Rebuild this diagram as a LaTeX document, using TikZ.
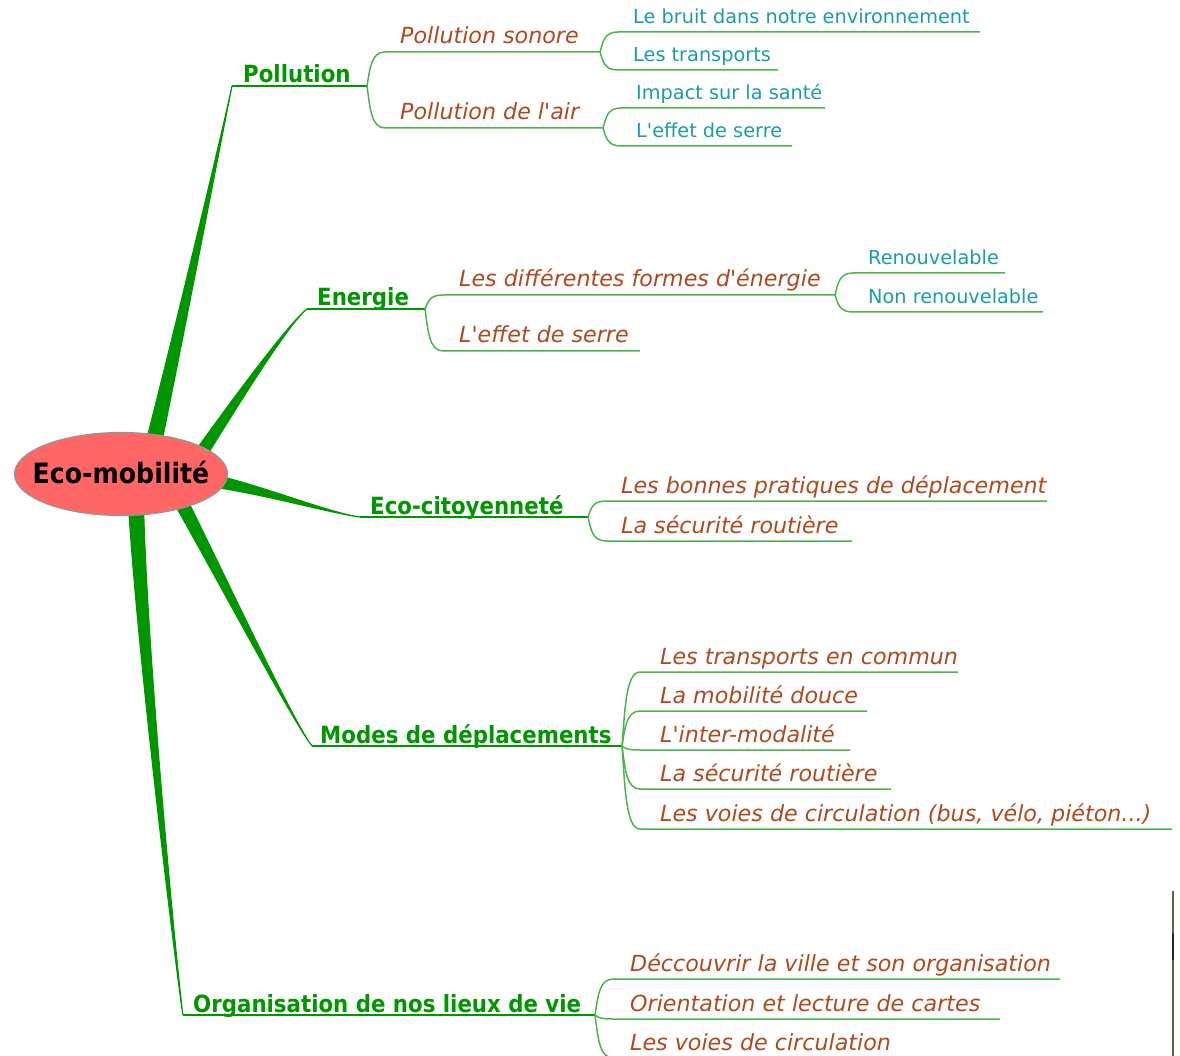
\documentclass[tikz,border=0pt]{standalone}
\usepackage{fontspec}
\usetikzlibrary{calc,backgrounds,shapes.geometric}
\setmainfont{DejaVu Sans}
\newfontfamily\condfont{DejaVu Sans Condensed}
\definecolor{lgreen}{RGB}{0,150,0}
\definecolor{tgreen}{RGB}{75,180,75}
\definecolor{brn}{RGB}{175,72,28}
\definecolor{tealtxt}{RGB}{25,158,160}
\definecolor{rootfill}{RGB}{255,102,102}
\definecolor{rootline}{RGB}{150,150,150}
\definecolor{edgeline}{RGB}{105,95,75}
\tikzset{
  rootnode/.style={ellipse, fill=rootfill, draw=rootline, line width=1.2pt,
    minimum width=213pt, minimum height=83pt, inner sep=0pt},
  roottext/.style={text=black, inner sep=0pt,
    font=\condfont\bfseries\fontsize{28}{32}\selectfont},
  lone/.style={text=lgreen, inner sep=0pt, font=\condfont\bfseries\fontsize{23.7}{28}\selectfont},
  ltwo/.style={text=brn, inner sep=0pt, font=\itshape\fontsize{22.2}{26}\selectfont},
  lthree/.style={text=tealtxt, inner sep=0pt, font=\fontsize{19.3}{23}\selectfont},
  uline/.style={draw=lgreen, line width=2pt},
  thinline/.style={draw=tgreen, line width=1.5pt},
  branch/.style={fill=lgreen, draw=lgreen, line width=1.2pt},
}
\newcommand\mainbranch[6]{%
  \coordinate (#1-s) at (#4,#3);
  \coordinate (#1-e) at (#5,#3);
  \node[lone, anchor=base west] (#1) at (#2,#3-3) {#6};
  \draw[uline] (#1-s) -- (#1-e);}
\newcommand\leaf[8]{%
  \coordinate (#1-s) at (#4+18,#5);
  \coordinate (#1-e) at (#6,#5);
  \node[#2, anchor=base west] (#1) at (#7,#5-8) {#8};
  \draw[thinline] (#3) .. controls ($(#3)!0.5!(#3 |- #1-s)+(3,0)$) and ($(#1-s)+(-14,0)$) .. (#1-s) -- (#1-e);}
\newcommand\thickbranch[5]{%
  \filldraw[branch] ($(#1)+(#5)$) .. controls ($(#2)+0.6*(#5)$) and (#3) .. (#4)
    .. controls (#3) and ($(#2)-0.6*(#5)$) .. ($(#1)-(#5)$) -- cycle;}
\begin{document}
\begin{tikzpicture}[x=1pt,y=-1pt]
\useasboundingbox (0,0) rectangle (1180,1056);
\clip (0,0) rectangle (1180,1056);

\node[rootnode] (root) at (121,474) {};
\node[roottext, anchor=base] (roottxt) at ($(root.center)+(0,9)$) {Eco-mobilité};

% level 1
\mainbranch{pol}{243}{86}{232}{367}{Pollution}
\mainbranch{ene}{317}{309}{307}{425}{Energie}
\mainbranch{eco}{370}{517}{360}{588}{Eco-citoyenneté}
\mainbranch{mod}{320}{746}{312}{622}{Modes de déplacements}
\mainbranch{org}{193}{1015}{183}{595}{Organisation de nos lieux de vie}

\coordinate (b-pol) at ($(root.center)+(32,-28)$);
\coordinate (b-ene) at ($(root.center)+(79,-19)$);
\coordinate (b-eco) at ($(root.center)+(94,7)$);
\coordinate (b-mod) at ($(root.center)+(59,26)$);
\coordinate (b-org) at ($(root.center)+(15,31)$);

\begin{scope}[on background layer]
  \thickbranch{b-pol}{182,320}{224,125}{pol-s}{8,0}
  \thickbranch{b-ene}{240,395}{290,322}{ene-s}{5,3.5}
  \thickbranch{b-eco}{270,492}{330,513}{eco-s}{1.5,6.5}
  \thickbranch{b-mod}{225,585}{295,725}{mod-s}{6,-3}
  \thickbranch{b-org}{143,670}{180,1000}{org-s}{7.5,0}
\end{scope}

% Pollution
\leaf{ps}{ltwo}{pol-e}{367}{52}{600}{400}{Pollution sonore}
\leaf{pa}{ltwo}{pol-e}{367}{128}{603}{400}{Pollution de l\textquotesingle air}
\leaf{b1}{lthree}{ps-e}{600}{32}{980}{633}{Le bruit dans notre environnement}
\leaf{b2}{lthree}{ps-e}{600}{70}{778}{633}{Les transports}
\leaf{a1}{lthree}{pa-e}{603}{108}{825}{636}{Impact sur la santé}
\leaf{a2}{lthree}{pa-e}{603}{146}{792}{636}{L\textquotesingle effet de serre}
% Energie
\leaf{ef}{ltwo}{ene-e}{425}{295}{835}{459}{Les différentes formes d\textquotesingle énergie}
\leaf{es}{ltwo}{ene-e}{425}{351}{640}{459}{L\textquotesingle effet de serre}
\leaf{r1}{lthree}{ef-e}{835}{273}{1005}{868}{Renouvelable}
\leaf{r2}{lthree}{ef-e}{835}{312}{1043}{868}{Non renouvelable}
% Eco-citoyennete
\leaf{c1}{ltwo}{eco-e}{588}{501}{1047}{621}{Les bonnes pratiques de déplacement}
\leaf{c2}{ltwo}{eco-e}{588}{541}{852}{621}{La sécurité routière}
% Modes
\leaf{m1}{ltwo}{mod-e}{622}{672}{958}{660}{Les transports en commun}
\leaf{m2}{ltwo}{mod-e}{622}{711}{867}{660}{La mobilité douce}
\leaf{m3}{ltwo}{mod-e}{622}{750}{850}{660}{L\textquotesingle inter-modalité}
\leaf{m4}{ltwo}{mod-e}{622}{789}{891}{660}{La sécurité routière}
\leaf{m5}{ltwo}{mod-e}{622}{829}{1172}{660}{Les voies de circulation (bus, vélo, piéton...)}
% Organisation
\leaf{o1}{ltwo}{org-e}{595}{979}{1060}{630}{Déccouvrir la ville et son organisation}
\leaf{o2}{ltwo}{org-e}{595}{1019}{1000}{630}{Orientation et lecture de cartes}
\leaf{o3}{ltwo}{org-e}{595}{1058}{900}{630}{Les voies de circulation}

% right edge line
\draw[edgeline, line width=2pt] (1173,891) -- (1173,1056);
\draw[black!85, line width=2pt] (1173,933) -- (1173,960);
\end{tikzpicture}
\end{document}
